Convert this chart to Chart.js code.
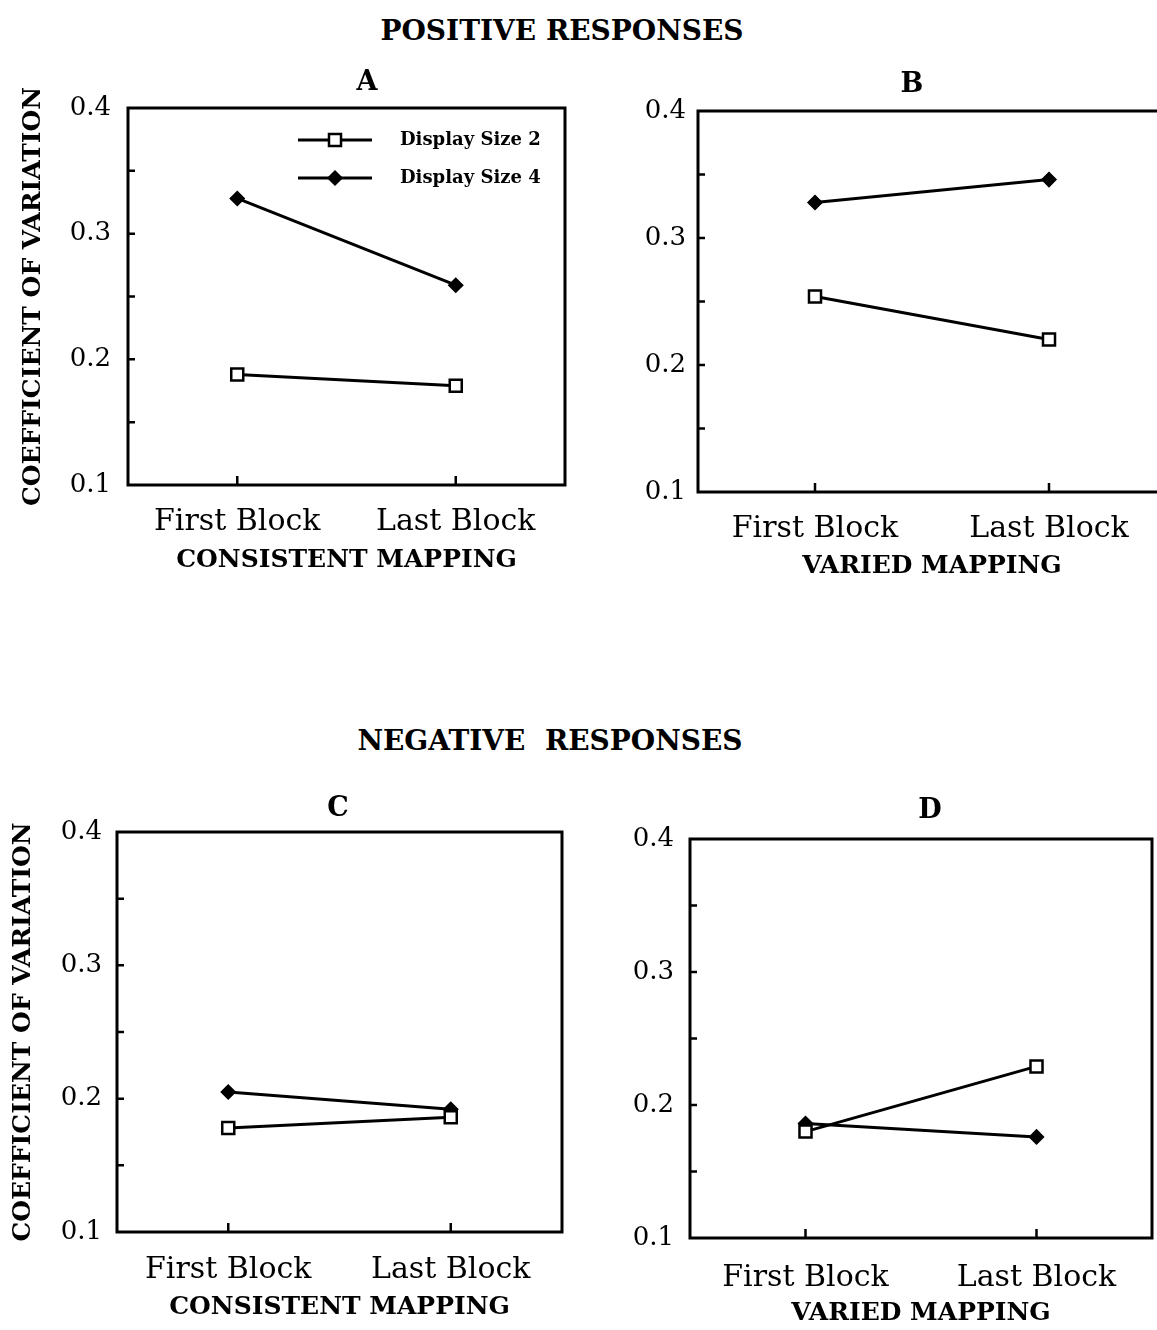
<!DOCTYPE html>
<html>
<head>
<meta charset="utf-8">
<script src="https://cdn.jsdelivr.net/npm/chart.js@4.4.1/dist/chart.umd.min.js"></script>
<style>
  body { margin: 0; background: #fff; }
  #page { position: relative; width: 1157px; height: 1330px; overflow: hidden; background: #fff; }
  canvas { position: absolute; }
  .head { position: absolute; font: bold 28px "DejaVu Serif"; color: #000; transform: translate(-50%, -50%); white-space: pre; }
  .letter { position: absolute; font: bold 27px "DejaVu Serif"; color: #000; transform: translate(-50%, -50%); }
</style>
</head>
<body>
<div id="page">
  <div class="head" style="left:562px;top:30px">POSITIVE RESPONSES</div>
  <div class="head" style="left:550px;top:740px">NEGATIVE  RESPONSES</div>
  <canvas id="panel-a" width="576" height="540" style="left:0;top:50px"></canvas>
  <canvas id="panel-b" width="577" height="550" style="left:600px;top:50px"></canvas>
  <canvas id="panel-c" width="573" height="560" style="left:0;top:770px"></canvas>
  <canvas id="panel-d" width="573" height="560" style="left:590px;top:770px"></canvas>
  <div class="letter" style="left:367px;top:80px">A</div>
  <div class="letter" style="left:912px;top:82px">B</div>
  <div class="letter" style="left:338px;top:806px">C</div>
  <div class="letter" style="left:930px;top:808px">D</div>
</div>
<script>
var blocks = ['First Block', 'Last Block'];
var seriesNames = ['Display Size 2', 'Display Size 4'];
var yTickLabels = [0.1, 0.2, 0.3, 0.4];

// positive responses
var posConsistSize2 = [0.188, 0.179];
var posConsistSize4 = [0.328, 0.259];
var posVariedSize2 = [0.254, 0.220];
var posVariedSize4 = [0.328, 0.346];
// negative responses
var negConsistSize2 = [0.178, 0.186];
var negConsistSize4 = [0.205, 0.192];
var negVariedSize2 = [0.180, 0.229];
var negVariedSize4 = [0.186, 0.176];

Chart.defaults.font.family = '"DejaVu Serif", serif';
Chart.defaults.color = '#000';

// box round the plot and the small inward ticks
var framePlugin = {
    id: 'frame',
    beforeDatasetsDraw: function(chart) {
        var a = chart.chartArea, ctx = chart.ctx;
        var x = chart.scales.x, y = chart.scales.y;
        ctx.save();
        ctx.strokeStyle = '#000';
        ctx.lineWidth = 3;
        ctx.strokeRect(a.left, a.top, a.right - a.left, a.bottom - a.top);
        ctx.lineWidth = 2.5;
        ctx.beginPath();
        y.ticks.forEach(function(t) {
            var py = y.getPixelForValue(t.value);
            if (py <= a.top + 2 || py >= a.bottom - 2) return;
            ctx.moveTo(a.left, py);
            ctx.lineTo(a.left + 7, py);
        });
        x.ticks.forEach(function(t, i) {
            var px = x.getPixelForTick(i);
            ctx.moveTo(px, a.bottom);
            ctx.lineTo(px, a.bottom - 9);
        });
        ctx.stroke();
        ctx.restore();
    }
};

// key drawn inside panel A
var keyPlugin = {
    id: 'panelKey',
    afterDatasetsDraw: function(chart, args, opts) {
        if (!opts.show) return;
        var a = chart.chartArea, ctx = chart.ctx;
        ctx.save();
        chart.data.datasets.forEach(function(ds, i) {
            var yy = a.top + 32 + i * 38;
            ctx.strokeStyle = ds.borderColor;
            ctx.lineWidth = ds.borderWidth;
            ctx.beginPath();
            ctx.moveTo(a.left + 170, yy);
            ctx.lineTo(a.left + 244, yy);
            ctx.stroke();
            ctx.fillStyle = ds.pointBackgroundColor;
            ctx.strokeStyle = ds.pointBorderColor;
            ctx.lineWidth = ds.pointBorderWidth;
            Chart.helpers.drawPoint(ctx, {
                pointStyle: ds.pointStyle,
                radius: ds.pointRadius,
                borderWidth: ds.pointBorderWidth,
                rotation: 0
            }, a.left + 207, yy);
            ctx.fillStyle = '#000';
            ctx.font = 'bold 18px "DejaVu Serif"';
            ctx.textBaseline = 'middle';
            ctx.textAlign = 'left';
            ctx.fillText(ds.label, a.left + 272, yy);
        });
        ctx.restore();
    }
};

function drawPanel(id, mapping, size2, size4, geo) {
    new Chart(document.getElementById(id), {
        type: 'line',
        data: {
            labels: blocks,
            datasets: [{
                label: seriesNames[0],
                data: size2,
                borderColor: '#000',
                borderWidth: 3,
                pointStyle: 'rect',
                pointRadius: 8.5,
                pointBackgroundColor: '#fff',
                pointBorderColor: '#000',
                pointBorderWidth: 2.5
            }, {
                label: seriesNames[1],
                data: size4,
                borderColor: '#000',
                borderWidth: 3,
                pointStyle: 'rectRot',
                pointRadius: 7,
                pointBackgroundColor: '#000',
                pointBorderColor: '#000',
                pointBorderWidth: 1.5
            }]
        },
        options: {
            responsive: false,
            animation: false,
            devicePixelRatio: 1,
            layout: { padding: { left: 0, right: 4, top: geo.top, bottom: 0 } },
            plugins: {
                legend: { display: false },
                tooltip: { enabled: false },
                panelKey: { show: !!geo.key }
            },
            scales: {
                x: {
                    offset: true,
                    grid: { display: false },
                    border: { display: false },
                    ticks: { font: { size: 30 }, padding: geo.xTickPad, maxRotation: 0 },
                    title: {
                        display: true,
                        text: mapping,
                        font: { size: 25, weight: 'bold' },
                        padding: { top: 0, bottom: geo.xTitlePad }
                    },
                    afterFit: function(s) { s.height = geo.xHeight; }
                },
                y: {
                    min: 0.1,
                    max: 0.4,
                    grid: { display: false },
                    border: { display: false },
                    ticks: {
                        stepSize: 0.05,
                        font: { size: 26 },
                        padding: geo.yTickPad,
                        callback: function(v) {
                            var hit = yTickLabels.filter(function(t) { return Math.abs(t - v) < 1e-6; });
                            return hit.length ? hit[0].toFixed(1) : '';
                        }
                    },
                    title: {
                        display: !!geo.yTitlePad,
                        text: 'COEFFICIENT OF VARIATION',
                        font: { size: 25, weight: 'bold' },
                        padding: { top: geo.yTitlePad || 0, bottom: 0 }
                    },
                    afterFit: function(s) { s.width = geo.yWidth; }
                }
            }
        },
        plugins: [framePlugin, keyPlugin]
    });
}

drawPanel('panel-a', 'CONSISTENT MAPPING', posConsistSize2, posConsistSize4, {
    top: 58, yWidth: 128, yTitlePad: 18, yTickPad: 9,
    xHeight: 105, xTickPad: 11, xTitlePad: 15, key: true
});
drawPanel('panel-b', 'VARIED MAPPING', posVariedSize2, posVariedSize4, {
    top: 61, yWidth: 98, yTickPad: 4,
    xHeight: 108, xTickPad: 11, xTitlePad: 19
});
drawPanel('panel-c', 'CONSISTENT MAPPING', negConsistSize2, negConsistSize4, {
    top: 62, yWidth: 117, yTitlePad: 8, yTickPad: 7,
    xHeight: 98, xTickPad: 12, xTitlePad: 8
});
drawPanel('panel-d', 'VARIED MAPPING', negVariedSize2, negVariedSize4, {
    top: 69, yWidth: 100, yTickPad: 8,
    xHeight: 92, xTickPad: 14, xTitlePad: 2
});
</script>
</body>
</html>
